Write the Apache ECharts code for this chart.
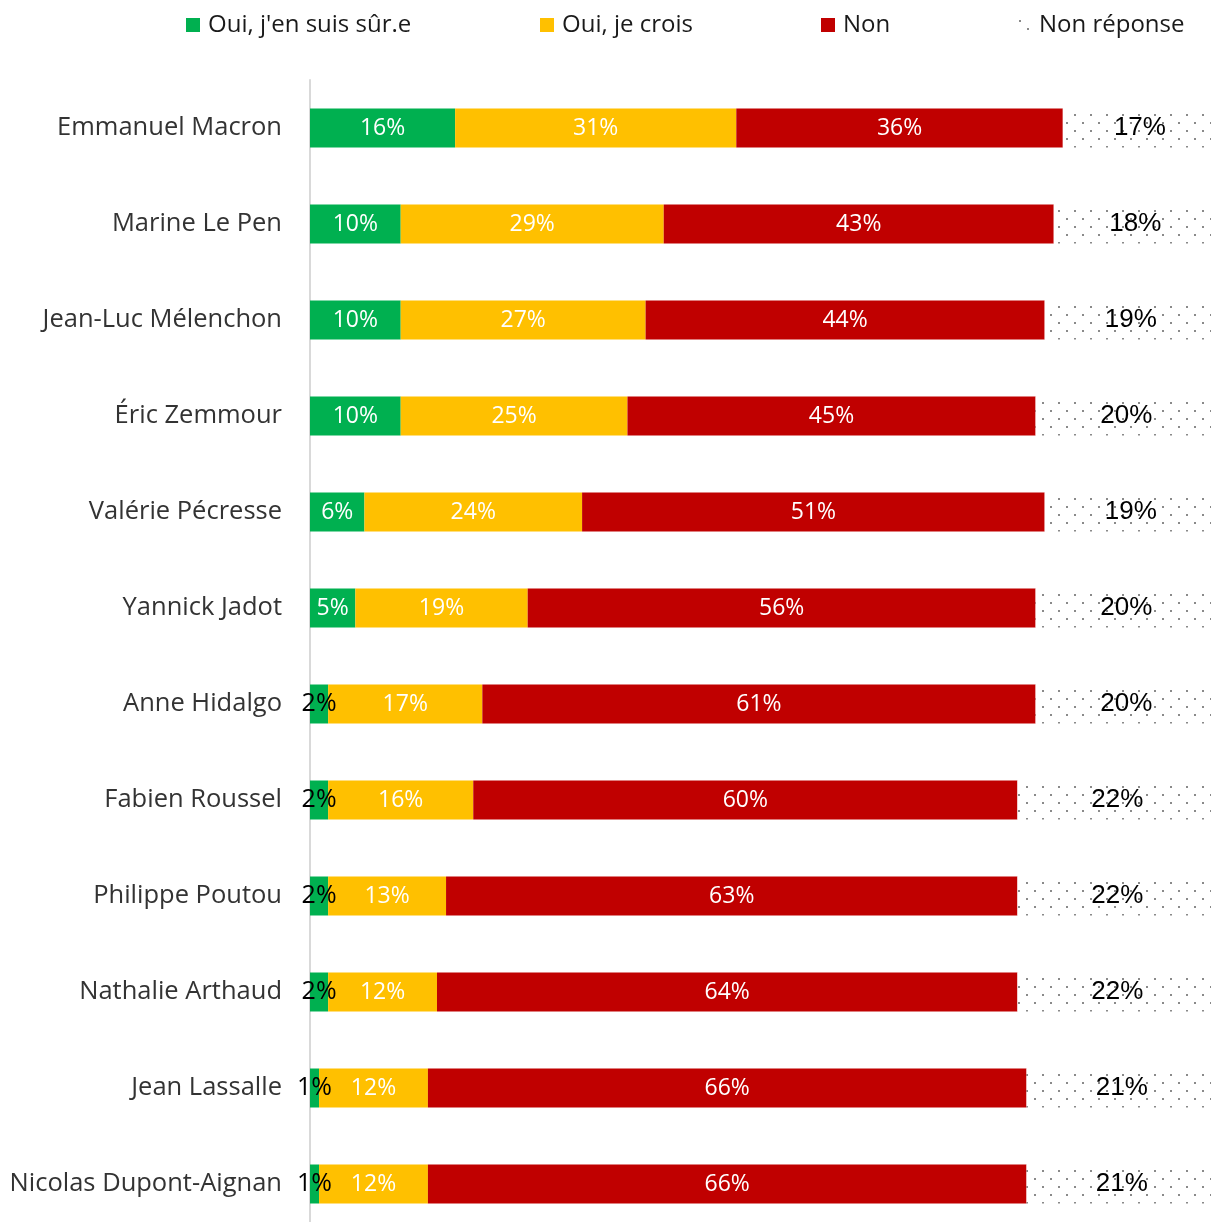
<!DOCTYPE html>
<html>
<head>
<meta charset="utf-8">
<script src="https://cdn.jsdelivr.net/npm/echarts@6/dist/echarts.min.js"></script>
<style>html,body{margin:0;padding:0;background:#fff;overflow:hidden}#c{width:1230px;height:1250px}</style>
</head>
<body>
<div id="c"></div>
<script>
var categories = ["Emmanuel Macron","Marine Le Pen","Jean-Luc Mélenchon","Éric Zemmour","Valérie Pécresse","Yannick Jadot","Anne Hidalgo","Fabien Roussel","Philippe Poutou","Nathalie Arthaud","Jean Lassalle","Nicolas Dupont-Aignan"];
var seriesNames = ["Oui, j'en suis sûr.e","Oui, je crois","Non","Non réponse"];
var ouiSur = [16,10,10,10,6,5,2,2,2,2,1,1];
var ouiCrois = [31,29,27,25,24,19,17,16,13,12,12,12];
var non = [36,43,44,45,51,56,61,60,63,64,66,66];
var nonReponse = [17,18,19,20,19,20,20,22,22,22,21,21];

var catFont = '"Open Sans", "Noto Sans", sans-serif';

// dotted pattern
var pc = document.createElement('canvas');
pc.width = 16; pc.height = 16;
var pctx = pc.getContext('2d');
pctx.fillStyle = '#ffffff'; pctx.fillRect(0,0,16,16);
pctx.fillStyle = '#8a8a8a';
pctx.fillRect(2,2,2,2);
pctx.fillRect(10,10,2,2);
var pattern = {image: pc, repeat: 'repeat'};

function mk(vals, name, color, smallBlack, labelStyle) {
  return {
    name: name, type: 'bar', stack: 'a', barWidth: 39,
    itemStyle: {color: color},
    label: Object.assign({show: true, position: 'inside', formatter: '{c}%'}, labelStyle),
    emphasis: {disabled: true},
    data: vals.map(function (v) {
      var d = {value: v};
      if (smallBlack && v <= 2) d.label = {color: '#000', fontSize: 25};
      return d;
    })
  };
}

var chart = echarts.init(document.getElementById('c'));
var legFont = {fontSize: 24, color: '#1a1a1a', fontFamily: catFont, padding: [0, 0, 0, 3]};
function leg(name, left) {
  return {data: [name], left: left, top: 13, padding: 0, itemWidth: 14, itemHeight: 14, itemGap: 8,
    icon: 'rect', textStyle: legFont, selectedMode: false};
}
chart.setOption({
  animation: false,
  legend: [leg(seriesNames[0], 186), leg(seriesNames[1], 540), leg(seriesNames[2], 821), leg(seriesNames[3], 1017)],
  grid: {left: 310, top: 80, width: 907, height: 1152, containLabel: false},
  xAxis: {type: 'value', min: 0, max: 100, show: false},
  yAxis: {
    type: 'category', data: categories, inverse: true,
    axisLine: {show: true, lineStyle: {color: '#d9d9d9', width: 2}},
    axisTick: {show: false},
    axisLabel: {fontSize: 25.5, color: '#333333', margin: 28, fontFamily: catFont}
  },
  series: [
    mk(ouiSur, seriesNames[0], '#00B050', true, {color: '#fff', fontSize: 23, fontFamily: catFont}),
    mk(ouiCrois, seriesNames[1], '#FFC000', false, {color: '#fff', fontSize: 23, fontFamily: catFont}),
    mk(non, seriesNames[2], '#C00000', false, {color: '#fff', fontSize: 23, fontFamily: catFont}),
    mk(nonReponse, seriesNames[3], pattern, false, {color: '#000', fontSize: 26, fontFamily: '"Liberation Sans", Arial, sans-serif'})
  ]
});
</script>
</body>
</html>
